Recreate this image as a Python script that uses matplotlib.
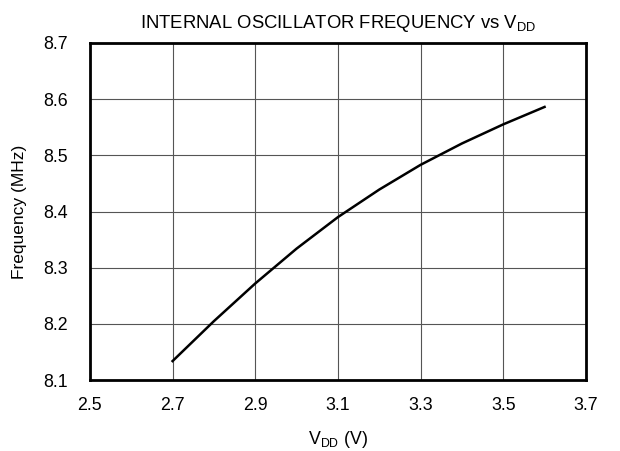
import matplotlib
matplotlib.use("Agg")
import matplotlib.pyplot as plt
import numpy as np

plt.rcParams['font.family'] = ['Liberation Sans', 'DejaVu Sans']

vdd = [2.7, 2.8, 2.9, 3.0, 3.1, 3.2, 3.3, 3.4, 3.5, 3.6]
freq = [8.134, 8.205, 8.272, 8.334, 8.390, 8.439, 8.483, 8.521, 8.555, 8.586]

x_ticks = [2.5, 2.7, 2.9, 3.1, 3.3, 3.5, 3.7]
y_ticks = [8.1, 8.2, 8.3, 8.4, 8.5, 8.6, 8.7]

fig = plt.figure(figsize=(6.2, 4.51), dpi=100)
ax = fig.add_axes([0.145, 0.157, 0.8, 0.748])

ax.plot(vdd, freq, color='black', lw=1.8, zorder=3)

ax.set_xlim(2.5, 3.7)
ax.set_ylim(8.1, 8.7)
ax.set_xticks(x_ticks)
ax.set_yticks(y_ticks)
ax.set_xticklabels([f"{v:.1f}" for v in x_ticks])
ax.set_yticklabels([f"{v:.1f}" for v in y_ticks])
ax.tick_params(length=0, labelsize=12.8)
ax.tick_params(axis='x', pad=12)
ax.tick_params(axis='y', pad=16)
ax.grid(True, color='#555555', lw=0.8)
for s in ax.spines.values():
    s.set_linewidth(2)
    s.set_color('black')

ax.set_title(r'INTERNAL OSCILLATOR FREQUENCY vs V$_{\mathregular{DD}}$', fontsize=13.3, pad=11)
ax.set_xlabel(r'V$_{\mathregular{DD}}$ (V)', fontsize=12.8, labelpad=11)
ax.set_ylabel('Frequency (MHz)', fontsize=12.5)
ax.yaxis.set_label_coords((27 - 90) / 496, 0.5)

plt.savefig('out.png', dpi=100)
